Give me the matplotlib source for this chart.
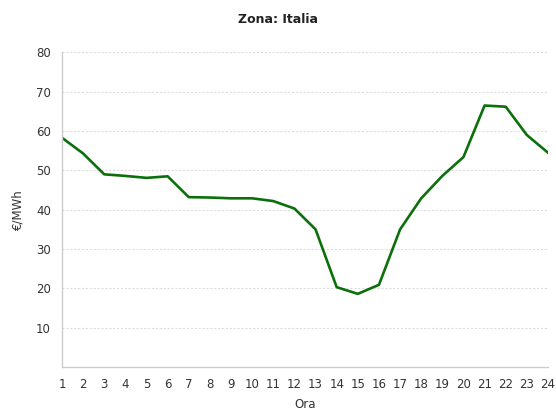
import matplotlib

matplotlib.use("Agg")
import matplotlib.pyplot as plt

hours = list(range(1, 25))
prices = [58.3, 54.3, 49.0, 48.6, 48.1, 48.5, 43.2, 43.1, 42.9, 42.9, 42.2, 40.3,
          35.0, 20.3, 18.6, 20.9, 35.0, 42.9, 48.6, 53.4, 66.5, 66.2, 59.0, 54.5]
y_ticks = [10, 20, 30, 40, 50, 60, 70, 80]

fig = plt.figure(figsize=(5.56, 4.13), dpi=100)
ax = fig.add_axes([0.1115, 0.1114, 0.8741, 0.7616])

ax.plot(hours, prices, color="#0b700b", linewidth=1.9, solid_joinstyle="round")

ax.set_xlim(1, 24)
ax.set_ylim(0, 80)
ax.set_xticks(hours)
ax.set_yticks(y_ticks)
ax.tick_params(axis="both", length=0, labelsize=8.5, labelcolor="#333333")
ax.tick_params(axis="x", pad=8)
ax.tick_params(axis="y", pad=8)
ax.yaxis.grid(True, color="#dddddd", linestyle=(0, (2, 1.5)), linewidth=0.8)
ax.set_axisbelow(True)

for side in ("top", "right"):
    ax.spines[side].set_visible(False)
for side in ("left", "bottom"):
    ax.spines[side].set_color("#cccccc")
    ax.spines[side].set_linewidth(1.0)

fig.text(0.5, 0.952, "Zona: Italia", ha="center", va="center",
         fontsize=9, fontweight="bold", color="#222222")
ax.set_xlabel("Ora", fontsize=8.5, labelpad=5, color="#333333")
ax.set_ylabel("€/MWh", fontsize=8.5, labelpad=8, color="#333333")

fig.savefig("out.png", dpi=100)
plt.close(fig)
